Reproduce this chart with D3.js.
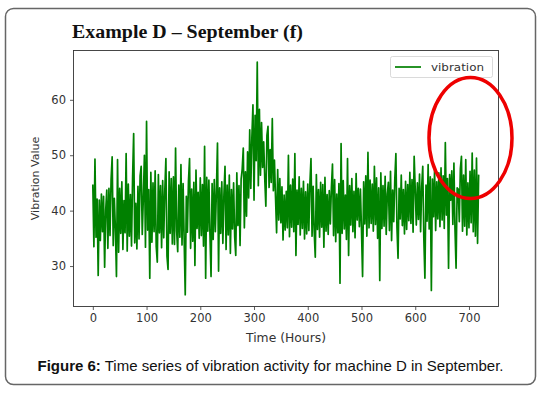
<!DOCTYPE html>
<html><head><meta charset="utf-8">
<script src="https://cdn.jsdelivr.net/npm/d3@7"></script>
<style>html,body{margin:0;padding:0;background:#fff;}svg{display:block;}</style>
</head><body>
<svg id="c" width="541" height="393"></svg>
<script>
const seriesName = "vibration";
const xTicks = [0,100,200,300,400,500,600,700];
const yTicks = [30,40,50,60];
// readings every 2 hours (hour = 2 * index)
const vibration = [
44.7,33.5,49.3,35.2,42.1,28.3,41.9,34.6,43.0,36.2,42.6,29.8,40.1,43.7,33.2,44.0,35.5,45.6,49.7,33.7,
42.2,36.9,28.1,49.2,32.5,44.0,35.9,45.2,33.0,41.8,36.0,50.3,32.7,44.8,35.4,42.9,33.6,45.9,53.9,34.2,
41.3,33.1,44.4,34.9,46.3,48.0,35.7,42.3,50.0,33.4,56.1,36.5,43.8,27.8,46.9,34.3,45.0,36.2,47.2,33.5,
30.7,46.5,36.0,44.5,33.3,45.4,35.1,43.7,49.4,31.8,29.4,47.0,35.9,45.8,34.0,46.1,33.9,51.3,36.4,32.6,
44.6,35.2,48.3,33.8,44.9,34.7,24.8,42.6,36.1,45.3,49.4,33.2,43.9,34.5,45.1,30.1,47.3,36.8,43.3,35.0,
45.9,35.5,44.7,33.6,51.6,27.8,46.0,36.3,45.5,35.7,28.1,44.9,34.8,45.6,36.2,43.6,52.2,29.1,44.1,35.9,
45.2,34.1,43.0,48.0,33.0,44.6,35.6,46.4,32.3,43.8,36.7,45.0,35.3,31.9,46.8,37.3,44.5,33.7,45.7,47.5,
51.3,36.9,47.0,39.0,50.6,42.3,54.6,44.0,53.3,59.1,41.9,57.2,49.0,66.8,44.5,58.3,46.4,55.9,47.8,52.4,
45.7,40.8,53.6,55.2,44.2,51.0,45.1,56.6,43.6,49.1,42.4,36.0,47.4,38.3,45.8,37.8,44.3,34.7,42.8,36.5,
43.5,36.9,50.0,35.3,44.6,37.0,45.7,36.2,50.3,31.9,43.7,37.5,46.1,35.6,44.0,36.8,45.3,34.9,43.4,35.8,
44.8,36.4,45.0,49.4,35.4,44.4,36.1,31.6,46.5,36.6,43.8,35.2,45.1,37.0,44.7,33.4,46.0,36.3,42.9,35.7,
43.6,37.6,44.2,48.4,35.5,45.6,34.4,43.0,36.0,44.9,26.9,52.1,35.9,45.4,36.7,42.8,34.8,49.4,31.9,44.5,
37.4,45.8,36.2,43.5,35.1,46.7,38.3,44.0,37.1,43.9,36.5,28.1,45.2,37.6,46.3,35.4,50.5,36.9,45.5,37.7,
44.8,36.3,48.0,37.5,45.9,35.0,44.1,27.4,46.8,36.8,44.5,37.2,46.2,35.7,43.0,45.1,36.4,47.1,34.6,43.7,
38.0,45.7,50.3,36.9,31.4,44.0,38.5,46.4,37.3,43.8,35.8,45.3,36.6,44.7,38.2,46.9,37.7,45.6,36.1,49.8,
43.9,37.4,45.0,38.4,46.6,36.2,44.3,48.0,35.0,27.8,44.6,38.1,48.3,36.7,46.1,25.6,45.7,38.9,47.4,36.4,
45.2,38.5,46.8,37.1,47.7,38.3,46.3,36.8,52.3,39.2,45.8,29.6,46.5,41.9,47.2,37.5,48.6,36.6,29.6,44.1,
43.9,38.0,47.6,49.8,36.3,46.4,37.2,49.2,35.6,45.0,36.9,47.1,37.8,50.4,36.2,47.3,35.4,49.5,34.1,46.5
];
const hourStep = 2;

const svg = d3.select("#c");
svg.append("rect").attr("x",5.5).attr("y",8.5).attr("width",530).attr("height",376)
  .attr("rx",8).attr("fill","#fff").attr("stroke","#666").attr("stroke-width",1.5);

const L=73.5, R=498.5, T=50.5, B=306.5;
const x = d3.scaleLinear().domain([-35.95, 754.95]).range([L, R]);
const y = d3.scaleLinear().domain([22.7, 68.9]).range([B, T]);

svg.append("text").attr("x",72).attr("y",38)
  .attr("font-family","'Liberation Serif','Times New Roman',serif").attr("font-weight","bold")
  .attr("font-size",18.5).attr("fill","#111")
  .attr("textLength",231).attr("lengthAdjust","spacingAndGlyphs")
  .text("Example D – September (f)");

const line = d3.line().x((d,i)=>x(i*hourStep)).y(d=>y(d));
svg.append("path").datum(vibration).attr("d",line).attr("fill","none")
  .attr("stroke","#008000").attr("stroke-width",1.7).attr("stroke-linejoin","round");

const fontAx = "'DejaVu Sans',sans-serif";
const gx = svg.append("g").attr("transform",`translate(0,${B})`)
  .call(d3.axisBottom(x).tickValues(xTicks).tickSize(3.5).tickPadding(4).tickFormat(d3.format("d")));
const gy = svg.append("g").attr("transform",`translate(${L},0)`)
  .call(d3.axisLeft(y).tickValues(yTicks).tickSize(3.5).tickPadding(4).tickFormat(d3.format("d")));
[gx,gy].forEach(g=>{
  g.select(".domain").remove();
  g.selectAll("line").attr("stroke","#333").attr("stroke-width",0.8);
  g.selectAll("text").attr("font-family",fontAx).attr("font-size",11.5).attr("fill","#333");
});
svg.append("rect").attr("x",L).attr("y",T).attr("width",R-L).attr("height",B-T)
  .attr("fill","none").attr("stroke","#333").attr("stroke-width",0.9);

svg.append("text").attr("x",(L+R)/2).attr("y",342).attr("text-anchor","middle")
  .attr("font-family",fontAx).attr("font-size",11.5).attr("fill","#333")
  .attr("textLength",80).attr("lengthAdjust","spacingAndGlyphs").text("Time (Hours)");
svg.append("text").attr("transform",`translate(39,${(T+B)/2}) rotate(-90)`).attr("text-anchor","middle")
  .attr("font-family",fontAx).attr("font-size",11).attr("fill","#333").text("Vibration Value");

const lg = svg.append("g");
lg.append("rect").attr("x",390.5).attr("y",56.5).attr("width",102).attr("height",21).attr("rx",2)
  .attr("fill","#fff").attr("fill-opacity",0.8).attr("stroke","#d0d0d0").attr("stroke-width",0.8);
lg.append("line").attr("x1",395).attr("x2",421).attr("y1",67).attr("y2",67)
  .attr("stroke","#008000").attr("stroke-width",1.7);
lg.append("text").attr("x",431).attr("y",71).attr("font-family",fontAx).attr("font-size",11)
  .attr("fill","#333").attr("textLength",53).attr("lengthAdjust","spacingAndGlyphs").text(seriesName);

svg.append("ellipse").attr("cx",470.5).attr("cy",138).attr("rx",41.5).attr("ry",60.5)
  .attr("fill","none").attr("stroke","#ee0000").attr("stroke-width",3.5);

const cap = svg.append("text").attr("x",270.5).attr("y",371).attr("text-anchor","middle")
  .attr("font-family","'Liberation Sans',Arial,sans-serif").attr("font-size",15).attr("fill","#111");
cap.append("tspan").attr("font-weight","bold").text("Figure 6:");
cap.append("tspan").text(" Time series of vibration activity for machine D in September.");
</script>
</body></html>
